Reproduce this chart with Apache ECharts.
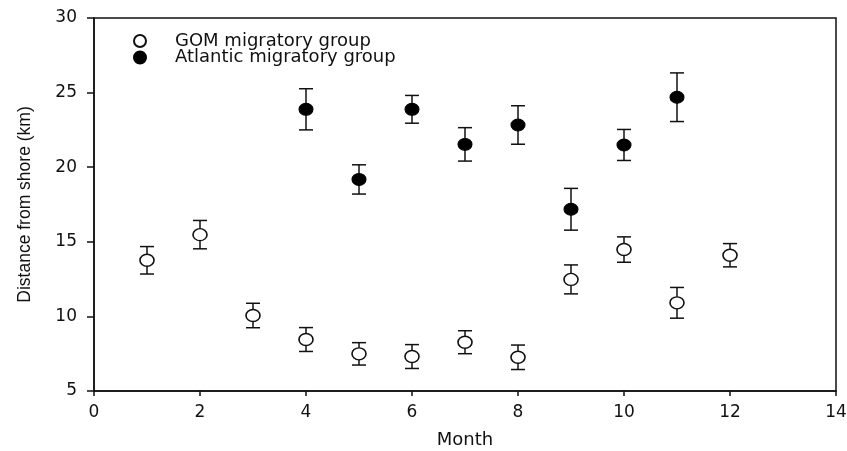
<!DOCTYPE html>
<html>
<head>
<meta charset="utf-8">
<script src="https://cdn.jsdelivr.net/npm/echarts@6/dist/echarts.min.js"></script>
<style>
  html, body { margin: 0; padding: 0; background: #fff; }
  #chart { width: 847px; height: 451px; }
</style>
</head>
<body>
<div id="chart"></div>
<script>
// GOM migratory group: mean distance and error (km)
const gomMonths = [1, 2, 3, 4, 5, 6, 7, 8, 9, 10, 11, 12]
const gomMean = [13.76, 15.48, 10.06, 8.45, 7.49, 7.31, 8.27, 7.26, 12.48, 14.48, 10.91, 14.1]
const gomErr = [0.92, 0.95, 0.82, 0.8, 0.75, 0.8, 0.77, 0.82, 0.97, 0.85, 1.03, 0.78]

// Atlantic migratory group
const atlMonths = [4, 5, 6, 7, 8, 9, 10, 11]
const atlMean = [23.88, 19.18, 23.88, 21.53, 22.83, 17.18, 21.49, 24.69]
const atlErr = [1.38, 0.98, 0.93, 1.12, 1.29, 1.4, 1.04, 1.63]

const chart = echarts.init(document.getElementById('chart'))

const textFont = 'DejaVu Sans'
const ink = '#111'

const points = (xs, ys, es) => xs.map((x, i) => [x, ys[i], es[i]])

const errorBars = (params, api) => {
  const x = api.value(0)
  const y = api.value(1)
  const e = api.value(2)
  const top = api.coord([x, y + e])
  const bot = api.coord([x, y - e])
  const hw = 7
  const style = { stroke: ink, lineWidth: 1.5 }
  return {
    type: 'group',
    children: [
      { type: 'line', shape: { x1: top[0], y1: top[1], x2: bot[0], y2: bot[1] }, style },
      { type: 'line', shape: { x1: top[0] - hw, y1: top[1], x2: top[0] + hw, y2: top[1] }, style },
      { type: 'line', shape: { x1: bot[0] - hw, y1: bot[1], x2: bot[0] + hw, y2: bot[1] }, style }
    ]
  }
}

const option = {
  backgroundColor: '#fff',
  animation: false,
  grid: {
    left: 94,
    right: 11,
    top: 18,
    bottom: 60,
    outerBoundsMode: 'none',
    show: true,
    borderColor: ink,
    borderWidth: 1.5
  },
  legend: {
    data: ['GOM migratory group', 'Atlantic migratory group'],
    orient: 'vertical',
    left: 133,
    top: 32,
    padding: 0,
    itemWidth: 14,
    itemHeight: 12,
    itemGap: -1.5,
    textStyle: {
      fontFamily: textFont,
      fontSize: 18,
      color: ink,
      lineHeight: 16,
      padding: [0, 0, 0, 23]
    }
  },
  xAxis: {
    type: 'value',
    min: 0,
    max: 14,
    interval: 2,
    name: 'Month',
    nameLocation: 'middle',
    nameGap: 40,
    nameTextStyle: { fontFamily: textFont, fontSize: 18, color: ink },
    splitLine: { show: false },
    axisLine: { lineStyle: { color: ink, width: 1.5 } },
    axisTick: { show: true, inside: false, length: 5, lineStyle: { color: ink, width: 1.5 } },
    axisLabel: { fontFamily: textFont, fontSize: 17, color: ink, margin: 13 }
  },
  yAxis: {
    type: 'value',
    min: 5,
    max: 30,
    interval: 5,
    name: 'Distance from shore (km)',
    nameLocation: 'middle',
    nameGap: 60,
    nameTextStyle: { fontFamily: 'Liberation Sans', fontSize: 17.5, color: ink },
    splitLine: { show: false },
    axisLine: { lineStyle: { color: ink, width: 1.5 } },
    axisTick: { show: true, inside: false, length: 7, lineStyle: { color: ink, width: 1.5 } },
    axisLabel: { fontFamily: textFont, fontSize: 17, color: ink, margin: 17 }
  },
  series: [
    {
      name: 'GOM error',
      type: 'custom',
      renderItem: errorBars,
      data: points(gomMonths, gomMean, gomErr),
      z: 1
    },
    {
      name: 'Atlantic error',
      type: 'custom',
      renderItem: errorBars,
      data: points(atlMonths, atlMean, atlErr),
      z: 1
    },
    {
      name: 'GOM migratory group',
      type: 'scatter',
      symbol: 'circle',
      symbolSize: [14, 12],
      data: points(gomMonths, gomMean, gomErr).map(p => [p[0], p[1]]),
      itemStyle: { color: '#fff', borderColor: ink, borderWidth: 1.5, opacity: 1 },
      z: 3
    },
    {
      name: 'Atlantic migratory group',
      type: 'scatter',
      symbol: 'circle',
      symbolSize: [14, 12],
      data: points(atlMonths, atlMean, atlErr).map(p => [p[0], p[1]]),
      itemStyle: { color: '#000', borderColor: '#000', borderWidth: 1, opacity: 1 },
      z: 3
    }
  ]
}

chart.setOption(option)
</script>
</body>
</html>
